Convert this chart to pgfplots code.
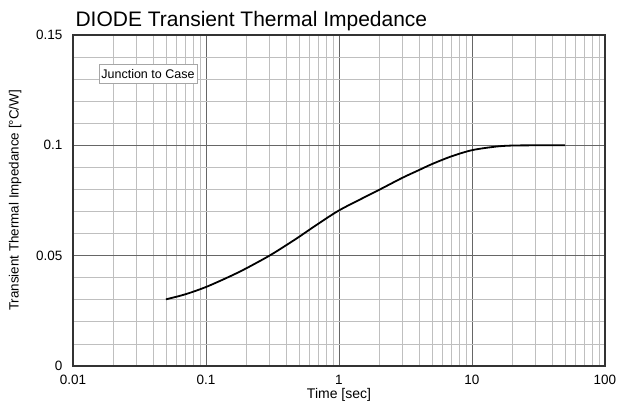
\documentclass[border=0pt]{standalone}
\usepackage{fontspec}
\setmainfont{Liberation Sans}
\usepackage{pgfplots}
\pgfplotsset{compat=1.18}
\begin{document}
\begin{tikzpicture}[x=1pt,y=1pt]
\useasboundingbox (-73,-45) rectangle (545,366);
\begin{axis}[at={(0,0)},anchor=south west, scale only axis, width=532pt, height=331pt,
  xmode=log, log basis x=10, xmin=0.01, xmax=100, ymin=0, ymax=0.15,
  xtick={0.01,0.1,1,10,100}, xticklabels={0.01,0.1,1,10,100},
  minor xtick={0.02,0.03,0.04,0.05,0.06,0.07,0.08,0.09,0.2,0.3,0.4,0.5,0.6,0.7,0.8,0.9,2,3,4,5,6,7,8,9,20,30,40,50,60,70,80,90},
  ytick={0,0.05,0.1,0.15}, yticklabels={0,0.05,0.1,0.15},
  minor ytick={0.01,0.02,0.03,0.04,0.06,0.07,0.08,0.09,0.11,0.12,0.13,0.14},
  grid=both,
  major grid style={draw=black!60, line width=0.9pt},
  minor grid style={draw=black!25, line width=0.8pt},
  tick style={draw=none},
  axis line style={draw=black!80, line width=1.3pt},
  ticklabel style={font=\fontsize{13.5}{15}\selectfont},
  xticklabel style={yshift=-6pt},
  yticklabel style={xshift=-7pt},
  xlabel={Time [sec]}, xlabel style={font=\fontsize{14}{16}\selectfont, yshift=4pt},
  ylabel={Transient Thermal Impedance [°C/W]}, ylabel style={font=\fontsize{13.4}{15}\selectfont, yshift=8pt},
  title={DIODE Transient Thermal Impedance},
  title style={at={(0,1)}, anchor=south west, font=\fontsize{21}{23}\selectfont, xshift=-1pt, yshift=-5pt},
]
\addplot[black, line width=1.8pt, smooth] coordinates {
(0.05,0.0302) (0.07,0.0325) (0.1,0.0358) (0.15,0.0405) (0.2,0.0442) (0.3,0.0500) (0.4,0.0547)
(0.5,0.0585) (0.7,0.0645) (1,0.0705) (1.5,0.0760) (2,0.0798) (3,0.0853) (4,0.0888) (5,0.0915)
(7,0.0950) (10,0.0978) (15,0.0994) (20,0.0999) (30,0.1) (50,0.1)
};
\node[draw=black!35, fill=white, font=\fontsize{12.5}{14}\selectfont, inner xsep=2.5pt, inner ysep=5pt] at (axis cs:0.0366,0.1323) {Junction to Case};
\end{axis}
\end{tikzpicture}
\end{document}
